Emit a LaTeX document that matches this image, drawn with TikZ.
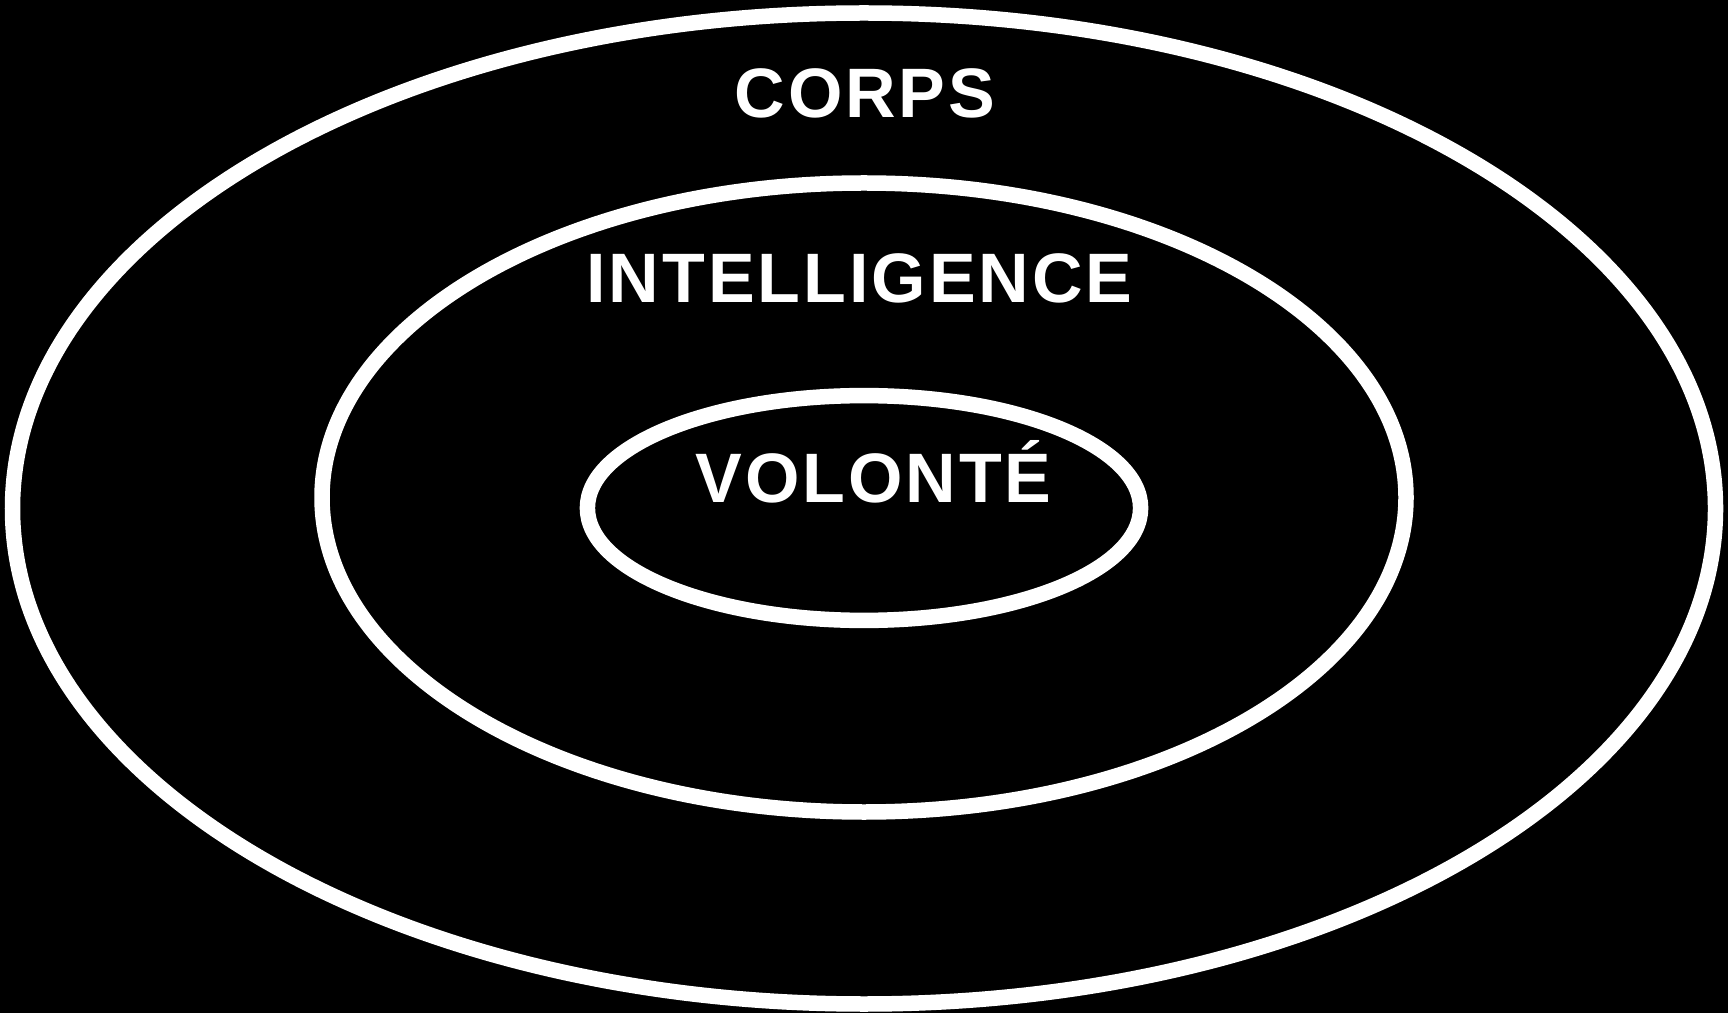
\documentclass[tikz,border=0pt]{standalone}
\usepackage{fontspec}
\setmainfont{Liberation Sans}[LetterSpace=4.2]
\begin{document}
\begin{tikzpicture}[x=1pt,y=1pt,
  ring/.style={draw=white,line width=15.5pt},
  lbl/.style={text=white,font=\fontsize{70}{84}\selectfont\bfseries,anchor=base,inner sep=0pt}]
\fill[black] (0,0) rectangle (1728,1013);
\useasboundingbox (0,0) rectangle (1728,1013);
\draw[ring] (864,504.5) ellipse [x radius=851.5, y radius=495.5];
\draw[ring] (864,515.5) ellipse [x radius=542, y radius=314.5];
\draw[ring] (864,505) ellipse [x radius=276.6, y radius=112.4];
\node[lbl] (corps) at (865,895) {CORPS};
\node[lbl] (intel) at (859.5,710) {INTELLIGENCE};
\node[lbl] (vol) at (873.5,510) {VOLONTÉ};
\end{tikzpicture}
\end{document}
